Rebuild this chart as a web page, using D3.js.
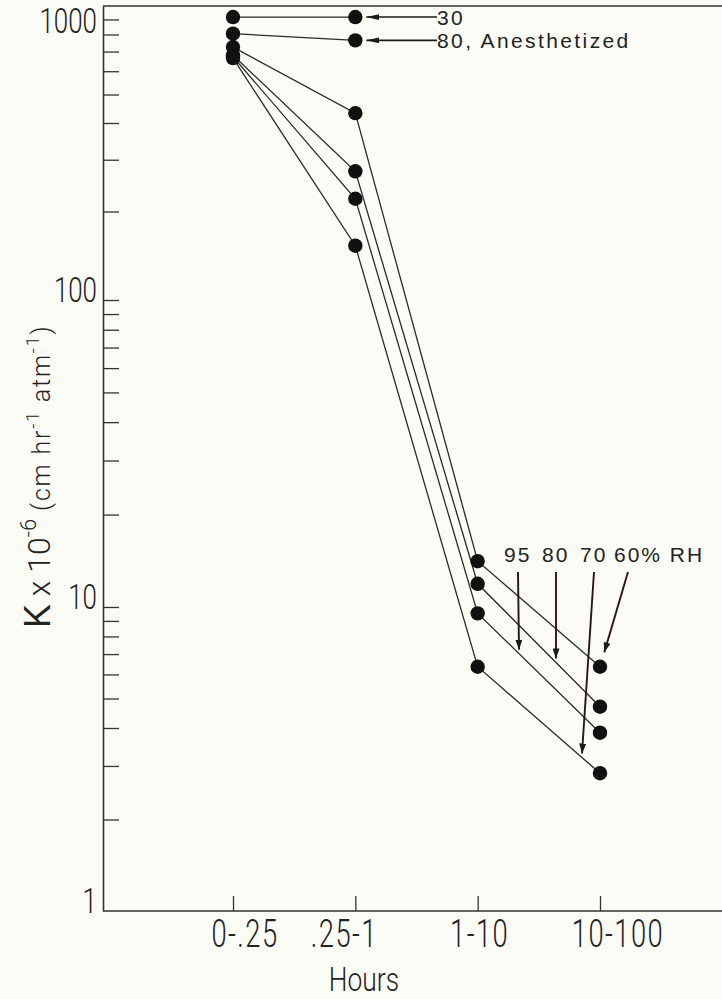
<!DOCTYPE html>
<html><head><meta charset="utf-8">
<script src="https://cdn.jsdelivr.net/npm/d3@7"></script>
<style>
body{margin:0;background:#fbfcf6;}
svg{display:block;background:#fbfcf6;}
</style>
</head><body>
<svg id="chart" width="722" height="999"></svg>
<script>
// ---------- data ----------
const categories = ["0-.25", ".25-1", "1-10", "10-100"];
const values30 = [917, 917];
const valuesAnesth = [805, 764];
const valuesRH60 = [725, 432, 14.1, 6.36];
const valuesRH80 = [680, 274, 11.9, 4.70];
const valuesRH95 = [672, 221, 9.53, 3.86];
const valuesRH70 = [665, 153, 6.36, 2.84];
const yTickValues = [1, 10, 100, 1000];
const yTickLabels = ["1", "10", "100", "1000"];
const topLabels = ["30", "80, Anesthetized"];
const rhLabels = ["95", "80", "70", "60% RH"];
const xTitle = "Hours";

// ---------- layout ----------
const frame = {left: 103, top: 6, bottom: 911, right: 722};
const svg = d3.select("#chart");

const x = d3.scalePoint().domain(categories).range([233, 600]);
// hand-drawn axis: decades are not exactly equal
const y = d3.scaleLog().domain([1, 10, 100, 1000]).range([frame.bottom, 607, 300, frame.top]);

const minorTicks = [];
[1, 10, 100].forEach(d => { for (let k = 2; k <= 9; k++) minorTicks.push(d * k); });
const allTicks = minorTicks.concat([10, 100]);

// frame
svg.append("line").attr("x1", frame.left).attr("x2", frame.right)
  .attr("y1", frame.top).attr("y2", frame.top).attr("stroke", "#333").attr("stroke-width", 1.6);
svg.append("line").attr("x1", frame.left).attr("x2", frame.right)
  .attr("y1", frame.bottom).attr("y2", frame.bottom).attr("stroke", "#333").attr("stroke-width", 1.6);

// y axis
const yAxis = svg.append("g").attr("transform", `translate(${frame.left},0)`)
  .call(d3.axisRight(y).tickValues(allTicks).tickSize(16).tickSizeOuter(0).tickFormat(""));
yAxis.select(".domain").attr("stroke", "#333").attr("stroke-width", 1.6);
yAxis.selectAll(".tick line").attr("stroke", "#333").attr("stroke-width", 1.3);

const condensed = sel => sel.style("font-family", "Roboto").style("font-weight", 300);

// y tick labels (condensed)
yTickValues.forEach((v, i) => {
  const yy = v === 1000 ? 33 : y(v) + 2;
  svg.append("text")
    .attr("transform", `translate(97,${yy}) scale(0.72,1)`)
    .attr("text-anchor", "end")
    .call(condensed).style("font-size", "36px")
    .attr("fill", "#222").text(yTickLabels[i]);
});

// x axis ticks
const xAxis = svg.append("g").attr("transform", `translate(0,${frame.bottom})`)
  .call(d3.axisTop(x).tickSize(15).tickSizeOuter(0).tickFormat(""));
xAxis.select(".domain").remove();
xAxis.selectAll(".tick line").attr("stroke", "#333").attr("stroke-width", 1.3);

const xNudge = [12, -11, 2, 18];
categories.forEach((c, i) => {
  svg.append("text")
    .attr("transform", `translate(${x(c) + xNudge[i]},947) scale(0.72,1)`)
    .attr("text-anchor", "middle")
    .call(condensed).style("font-size", "38px").style("letter-spacing", "2px")
    .attr("fill", "#222").text(c);
});

svg.append("text")
  .attr("transform", `translate(364,991) scale(0.8,1)`)
  .attr("text-anchor", "middle")
  .call(condensed).style("font-size", "33px")
  .attr("fill", "#222").text(xTitle);

// y axis title
const yt = svg.append("text")
  .attr("transform", "translate(50,628) rotate(-90)")
  .attr("fill", "#222");
yt.append("tspan").text("K").style("font-family", "Liberation Sans").style("font-size", "36px");
yt.append("tspan").text(" x 10").call(condensed).style("font-size", "32px");
yt.append("tspan").text("-6").attr("dy", -14).call(condensed).style("font-size", "22px");
const par = [["  (cm hr", 0, 25], ["-1", -11, 18], [" atm", 11, 25], ["-1", -11, 18], [")", 11, 25]];
par.forEach(([t, dy, fs], i) => {
  yt.append("tspan").text(t).attr("dy", i === 0 ? 14 : dy).call(condensed)
    .style("font-size", fs + "px").style("letter-spacing", "1.8px");
});

// ---------- series ----------
const allSeries = [values30, valuesAnesth, valuesRH60, valuesRH80, valuesRH95, valuesRH70];
const line = d3.line().x((d, i) => x(categories[i])).y(d => y(d));

svg.append("g").selectAll("path").data(allSeries).join("path")
  .attr("d", line).attr("fill", "none").attr("stroke", "#2a2a2a").attr("stroke-width", 1.3);

const dots = [];
allSeries.forEach(s => s.forEach((v, i) => dots.push({c: categories[i], v})));
svg.append("g").selectAll("circle").data(dots).join("circle")
  .attr("cx", d => x(d.c)).attr("cy", d => y(d.v)).attr("r", 7.2).attr("fill", "#111");

// ---------- annotations ----------
const defs = svg.append("defs");
function marker(id, w, h) {
  defs.append("marker").attr("id", id).attr("viewBox", `0 0 ${w} ${h}`)
    .attr("refX", w).attr("refY", h / 2).attr("markerWidth", w).attr("markerHeight", h)
    .attr("markerUnits", "userSpaceOnUse").attr("orient", "auto")
    .append("path").attr("d", `M0,0L${w},${h / 2}L0,${h}Z`).attr("fill", "#1a1a1a");
}
marker("ahTop", 13, 6);
marker("ahRH", 10, 7);

[values30, valuesAnesth].forEach((s, i) => {
  const yy = y(s[1]);
  svg.append("line").attr("x1", 437).attr("y1", yy).attr("x2", x(categories[1]) + 11).attr("y2", yy)
    .attr("stroke", "#1a1a1a").attr("stroke-width", 1.6).attr("marker-end", "url(#ahTop)");
  svg.append("text").attr("x", 437).attr("y", yy + 8)
    .style("font-family", "Liberation Sans").style("font-size", "21px").style("letter-spacing", "2.4px")
    .attr("fill", "#222").text(topLabels[i]);
});

const rhTargets = [valuesRH95, valuesRH80, valuesRH70, valuesRH60];
const rhTailX = [518, 556, 594, 628];
const rhTipX = [519, 556, 582, null];
function lineYAt(s, px) {
  const x0 = x(categories[2]), x1 = x(categories[3]);
  const y0 = y(s[2]), y1 = y(s[3]);
  return y0 + (px - x0) / (x1 - x0) * (y1 - y0);
}
rhTargets.forEach((s, i) => {
  const tx = rhTailX[i], ty = 572;
  let ex, ey;
  if (rhTipX[i] === null) {
    const cx = x(categories[3]), cy = y(s[3]);
    const dx = cx - tx, dy = cy - ty, L = Math.hypot(dx, dy);
    ex = cx - dx / L * 15; ey = cy - dy / L * 15;
  } else {
    ex = rhTipX[i]; ey = lineYAt(s, ex) - 4;
  }
  svg.append("line").attr("x1", tx).attr("y1", ty).attr("x2", ex).attr("y2", ey)
    .attr("stroke", "#2a1616").attr("stroke-width", 1.9).attr("marker-end", "url(#ahRH)");
  svg.append("text").attr("x", tx - 14).attr("y", 562)
    .style("font-family", "Liberation Sans").style("font-size", "21px").style("letter-spacing", "2px")
    .attr("fill", "#222").text(rhLabels[i]);
});
</script>
</body></html>
